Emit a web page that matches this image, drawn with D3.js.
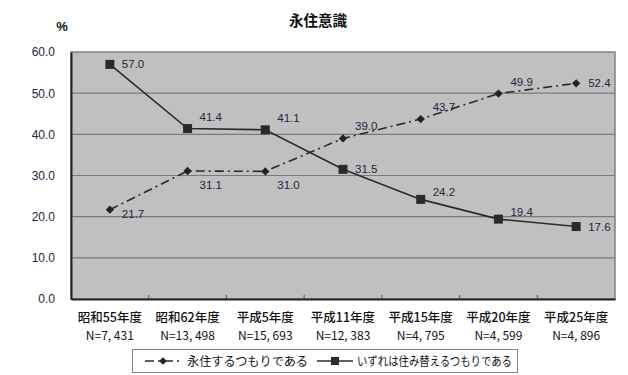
<!DOCTYPE html>
<html><head><meta charset="utf-8">
<script src="https://cdn.jsdelivr.net/npm/d3@7"></script>
<style>
body{margin:0;background:#fff;}
svg{display:block;}
</style></head>
<body>
<svg id="c" width="628" height="375"></svg>
<script>
const title = "永住意識";
const yUnit = "%";
const categories = ["昭和55年度","昭和62年度","平成5年度","平成11年度","平成15年度","平成20年度","平成25年度"];
const sampleSizes = ["N=7, 431","N=13, 498","N=15, 693","N=12, 383","N=4, 795","N=4, 599","N=4, 896"];
const seriesNames = ["永住するつもりである","いずれは住み替えるつもりである"];
const permanent = [21.7, 31.1, 31.0, 39.0, 43.7, 49.9, 52.4];
const relocate = [57.0, 41.4, 41.1, 31.5, 24.2, 19.4, 17.6];
const permanentLabelPos = ["rb","b","b","a","a","a","r"];
const relocateLabelPos = ["r","a","a","r","as","as","r"];
const yTicks = [0,10,20,30,40,50,60];

const svg = d3.select("#c");
const L = 71, R = 615, T = 52, B = 299;
const x = d3.scaleBand().domain(categories).range([L, R]).padding(0);
const y = d3.scaleLinear().domain([0, 60]).range([B, T]);
const cx = c => x(c) + x.bandwidth()/2;
const labelColor = "#1c2541";
const cjk = "'Noto Sans CJK JP', sans-serif";
const latin = "Arial, 'Liberation Sans', sans-serif";

// plot background
svg.append("rect").attr("x", L).attr("y", T).attr("width", R-L).attr("height", B-T)
  .attr("fill", "#c0c0c0").attr("stroke", "#808080").attr("stroke-width", 1.5);

// gridlines
svg.append("g").selectAll("line").data(yTicks.filter(v => v > 0 && v < 60)).join("line")
  .attr("x1", L).attr("x2", R).attr("y1", d => y(d)).attr("y2", d => y(d))
  .attr("stroke", "#7a7a7a").attr("stroke-width", 1.2);

// y axis
const yAxis = svg.append("g").attr("transform", `translate(${L},0)`)
  .call(d3.axisLeft(y).tickValues(yTicks).tickFormat(d3.format(".1f")).tickSize(0).tickPadding(16));
yAxis.select(".domain").attr("stroke", "#222").attr("stroke-width", 2);
yAxis.selectAll("text").attr("font-family", latin)
  .attr("font-size", 12).attr("fill", labelColor);

// x axis
const xAxis = svg.append("g").attr("transform", `translate(0,${B})`)
  .call(d3.axisBottom(x).tickSize(0).tickFormat(""));
xAxis.select(".domain").attr("stroke", "#222").attr("stroke-width", 2);
svg.append("g").selectAll("line").data(categories.slice(1)).join("line")
  .attr("x1", d => x(d)).attr("x2", d => x(d)).attr("y1", B).attr("y2", B-4)
  .attr("stroke", "#555").attr("stroke-width", 1);

// category labels
svg.append("g").selectAll("text").data(categories).join("text")
  .attr("x", d => cx(d)).attr("y", 322).attr("text-anchor", "middle")
  .attr("font-family", cjk).attr("font-size", 12.5).attr("font-weight", 500).attr("fill", "#111")
  .text(d => d);
svg.append("g").selectAll("text").data(sampleSizes).join("text")
  .attr("x", (d,i) => cx(categories[i])).attr("y", 340).attr("text-anchor", "middle")
  .attr("font-family", cjk).attr("font-size", 12).attr("fill", "#111")
  .text(d => d);

// title and unit
svg.append("text").attr("x", 318).attr("y", 26).attr("text-anchor", "middle")
  .attr("font-family", cjk).attr("font-size", 14.5).attr("font-weight", 700).attr("fill", "#111").text(title);
svg.append("text").attr("x", 62).attr("y", 31).attr("text-anchor", "middle")
  .attr("font-family", latin).attr("font-size", 13).attr("font-weight", 700).attr("fill", "#111").text(yUnit);

const line = d3.line().x((d,i) => cx(categories[i])).y(d => y(d));

// series 1 (dash-dot, diamonds)
svg.append("path").datum(permanent).attr("d", line).attr("fill", "none")
  .attr("stroke", "#2a2a2a").attr("stroke-width", 1.6).attr("stroke-dasharray", "9,4,2,4");
svg.append("g").selectAll("path").data(permanent).join("path")
  .attr("d", d3.symbol().type(d3.symbolDiamond2).size(44))
  .attr("transform", (d,i) => `translate(${cx(categories[i])},${y(d)})`)
  .attr("fill", "#222");

// series 2 (solid, squares)
svg.append("path").datum(relocate).attr("d", line).attr("fill", "none")
  .attr("stroke", "#2a2a2a").attr("stroke-width", 1.6);
svg.append("g").selectAll("rect").data(relocate).join("rect")
  .attr("x", (d,i) => cx(categories[i]) - 4.5).attr("y", d => y(d) - 4.5)
  .attr("width", 9).attr("height", 9).attr("fill", "#2a2a2a");

// data labels (offset of label centre from the point)
const off = {r:0, rb:4, b:14, a:-12, as:-7};
function labels(vals, pos) {
  svg.append("g").selectAll("text").data(vals).join("text")
    .attr("x", (d,i) => cx(categories[i]) + 12)
    .attr("y", (d,i) => y(d) + off[pos[i]] + 4)
    .attr("font-family", latin).attr("font-size", 11.5)
    .attr("fill", labelColor).text(d => d.toFixed(1));
}
labels(permanent, permanentLabelPos);
labels(relocate, relocateLabelPos);

// legend
const lg = svg.append("g");
lg.append("rect").attr("x", 132.5).attr("y", 349.5).attr("width", 385).attr("height", 23)
  .attr("fill", "#fff").attr("stroke", "#888").attr("stroke-width", 1);
lg.append("line").attr("x1", 143).attr("x2", 183).attr("y1", 361).attr("y2", 361)
  .attr("stroke", "#2a2a2a").attr("stroke-width", 1.6).attr("stroke-dasharray", "9,4,2,4").attr("stroke-dashoffset", -2);
lg.append("path").attr("d", d3.symbol().type(d3.symbolDiamond2).size(36))
  .attr("transform", "translate(163,361)").attr("fill", "#222");
lg.append("text").attr("x", 187).attr("y", 365.5).attr("font-family", cjk).attr("font-size", 12)
  .attr("fill", "#111").attr("textLength", 121).attr("lengthAdjust", "spacingAndGlyphs").text(seriesNames[0]);
lg.append("line").attr("x1", 317).attr("x2", 353).attr("y1", 361).attr("y2", 361)
  .attr("stroke", "#2a2a2a").attr("stroke-width", 1.6);
lg.append("rect").attr("x", 331).attr("y", 357).attr("width", 8).attr("height", 8).attr("fill", "#2a2a2a");
lg.append("text").attr("x", 357).attr("y", 365.5).attr("font-family", cjk).attr("font-size", 12)
  .attr("fill", "#111").attr("textLength", 155).attr("lengthAdjust", "spacingAndGlyphs").text(seriesNames[1]);
</script>
</body></html>
